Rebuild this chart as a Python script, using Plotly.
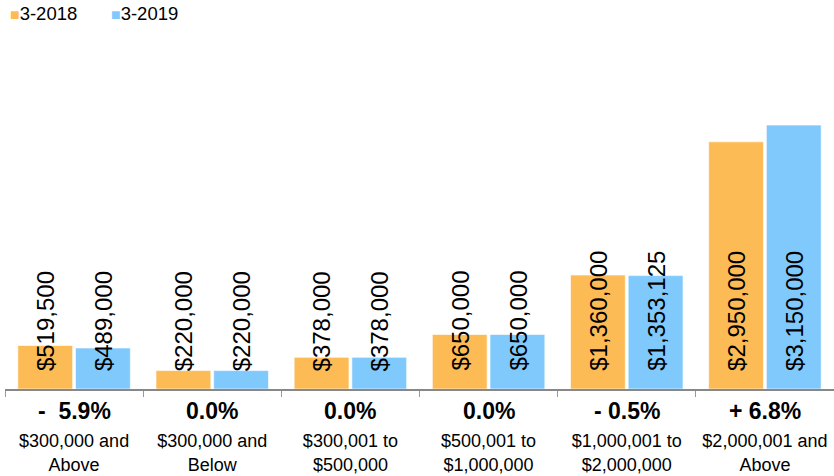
import plotly.graph_objects as go

categories = ["$300,000 and<br>Above", "$300,000 and<br>Below", "$300,001 to<br>$500,000",
              "$500,001 to<br>$1,000,000", "$1,000,001 to<br>$2,000,000", "$2,000,001 and<br>Above"]
values_2018 = [519500, 220000, 378000, 650000, 1360000, 2950000]
values_2019 = [489000, 220000, 378000, 650000, 1353125, 3150000]
pct_change = ["-  5.9%", "0.0%", "0.0%", "0.0%", "- 0.5%", "+ 6.8%"]
series_names = ["3-2018", "3-2019"]

ORANGE = "#FDBB55"
BLUE = "#80C9FD"
FONT = "Liberation Sans, Arial, Helvetica, sans-serif"
series = [(series_names[0], values_2018, ORANGE, -29), (series_names[1], values_2019, BLUE, 29)]

fig = go.Figure()
for name, vals, col, shift in series:
    fig.add_trace(go.Bar(
        x=categories, y=vals, name=name,
        marker=dict(color=col, line=dict(color="rgba(255,255,255,0.6)", width=1)),
        hoverinfo="skip", showlegend=False,
    ))
    for cat, v in zip(categories, vals):
        fig.add_annotation(x=cat, y=0, xref="x", yref="y", xanchor="center", yanchor="bottom",
                           xshift=shift, yshift=16, textangle=-90, showarrow=False,
                           text=f"${v:,}", font=dict(family=FONT, size=24, color="black"))

for cat, p in zip(categories, pct_change):
    fig.add_annotation(x=cat, y=0, xref="x", yref="y", yanchor="middle", yshift=-22,
                       text=f"<b>{p}</b>", showarrow=False,
                       font=dict(family=FONT, size=23, color="black"))

# legend drawn as text entries
for i, (name, vals, col, shift) in enumerate(series):
    fig.add_annotation(x=[0.004, 0.126][i], y=1.077, xref="paper", yref="paper",
                       xanchor="left", yanchor="middle", showarrow=False,
                       text=f"<span style='color:{col};font-size:16px'>■</span>{name}",
                       font=dict(family=FONT, size=18.5, color="black"))

fig.update_layout(
    width=834, height=476,
    margin=dict(l=5, r=0, t=40, b=87),
    paper_bgcolor="white", plot_bgcolor="white",
    barmode="group", bargap=0.165, bargroupgap=0.05,
    font=dict(family=FONT, color="black"),
    showlegend=False,
    xaxis=dict(type="category", showline=True, linecolor="#888888", linewidth=1.5,
               ticks="outside", tickson="boundaries", ticklen=6, tickcolor="#999999",
               tickfont=dict(size=18, family=FONT, color="black"), showgrid=False,
               automargin=False, ticklabelstandoff=35),
    yaxis=dict(range=[0, 4165000], visible=False, showgrid=False, automargin=False),
)

fig.write_html("out.html", config={"displayModeBar": False},
               post_script="document.body.style.margin='0px';")
